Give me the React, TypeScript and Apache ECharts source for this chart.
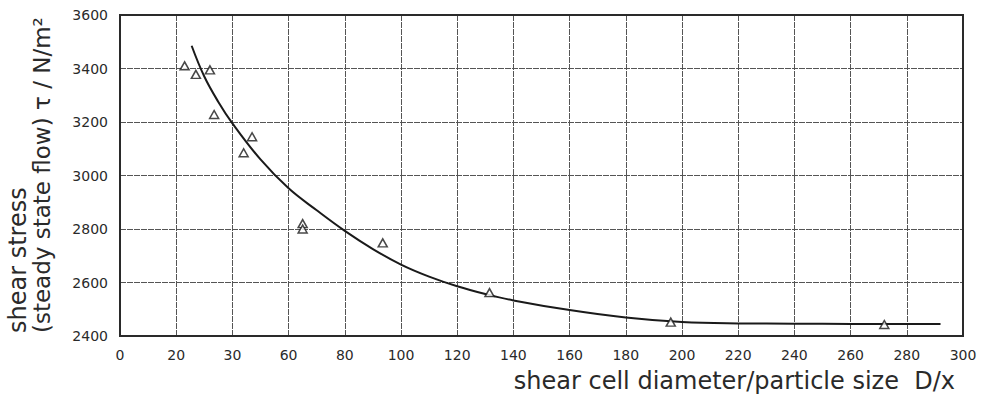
import React, { useEffect, useRef } from "react";
import * as echarts from "echarts";

// Measured points (D/x, shear stress in N/m²)
const pointX = [23, 27, 32, 33.5, 47, 44, 65, 65, 93.5, 131.5, 196, 272];
const pointY = [3410, 3378, 3395, 3228, 3145, 3085, 2820, 2800, 2748, 2562, 2452, 2443];

// Fitted curve
const curveX = [25.5, 30, 35, 40, 50, 60, 70, 80, 90, 100, 110, 120, 130, 140, 160, 180, 200, 220, 240, 260, 280, 292];
const curveY = [3485, 3370, 3275, 3195, 3060, 2952, 2870, 2793, 2725, 2667, 2622, 2586, 2557, 2533, 2497, 2469, 2452, 2447, 2446, 2445, 2445, 2445];

// Tick labels as printed in the figure
const xTickLabels = ["0", "20", "30", "60", "80", "100", "120", "140", "160", "180", "200", "220", "240", "260", "280", "300"];
const yTickLabels = ["2400", "2600", "2800", "3000", "3200", "3400", "3600"];

const xTitle = "shear cell diameter/particle size  D/x";
const yTitle1 = "shear stress";
const yTitle2 = "(steady state flow) \u03C4 / N/m\u00B2";

const FONT = "DejaVu Sans";
const INK = "#2a2a2a";

export default function App() {
  const ref = useRef<HTMLDivElement>(null);
  useEffect(() => {
    document.body.style.margin = "0";
    const chart = echarts.init(ref.current!, null, { renderer: "svg" });
    chart.setOption({
      animation: false,
      backgroundColor: "#ffffff",
      grid: { left: 120, right: 19, top: 15, bottom: 61, containLabel: false },
      xAxis: {
        type: "value",
        min: 0,
        max: 300,
        interval: 20,
        axisLine: { show: true, onZero: false, lineStyle: { color: INK, width: 2 } },
        axisTick: { show: false },
        splitLine: { show: true, lineStyle: { color: "#555", width: 1, type: [6, 1] } },
        axisLabel: {
          color: INK,
          fontFamily: FONT,
          fontSize: 14,
          margin: 12,
          formatter: (v: number) => xTickLabels[Math.round(v / 20)] ?? "",
        },
      },
      yAxis: {
        type: "value",
        min: 2400,
        max: 3600,
        interval: 200,
        axisLine: { show: true, onZero: false, lineStyle: { color: INK, width: 2 } },
        axisTick: { show: false },
        splitLine: { show: true, lineStyle: { color: "#555", width: 1, type: [6, 1] } },
        axisLabel: {
          color: INK,
          fontFamily: FONT,
          fontSize: 14,
          margin: 12,
          formatter: (v: number) => yTickLabels[Math.round((v - 2400) / 200)] ?? "",
        },
      },
      graphic: [
        {
          type: "rect",
          shape: { x: 120, y: 15, width: 843, height: 321 },
          style: { fill: "none", stroke: INK, lineWidth: 2 },
          silent: true,
          z: 10,
        },
        {
          type: "text",
          x: 955,
          y: 381,
          style: {
            text: xTitle,
            fill: INK,
            font: `24px "${FONT}"`,
            textAlign: "right",
            textVerticalAlign: "middle",
          },
        },
        {
          type: "text",
          x: 18,
          y: 333,
          rotation: Math.PI / 2,
          style: {
            text: yTitle1,
            fill: INK,
            font: `24px "${FONT}"`,
            textAlign: "left",
            textVerticalAlign: "middle",
          },
        },
        {
          type: "text",
          x: 42,
          y: 333,
          rotation: Math.PI / 2,
          style: {
            text: yTitle2,
            fill: INK,
            font: `23px "${FONT}"`,
            textAlign: "left",
            textVerticalAlign: "middle",
          },
        },
      ],
      series: [
        {
          type: "line",
          data: curveX.map((x, i) => [x, curveY[i]]),
          smooth: 0.4,
          showSymbol: false,
          lineStyle: { color: "#1a1a1a", width: 2 },
          z: 3,
        },
        {
          type: "scatter",
          data: pointX.map((x, i) => [x, pointY[i]]),
          symbol: "triangle",
          symbolSize: [9, 8],
          itemStyle: { color: "#ffffff", borderColor: "#1a1a1a", borderWidth: 1.5 },
          z: 5,
        },
      ],
    });
    return () => chart.dispose();
  }, []);
  return <div ref={ref} style={{ width: 982, height: 397 }} />;
}
